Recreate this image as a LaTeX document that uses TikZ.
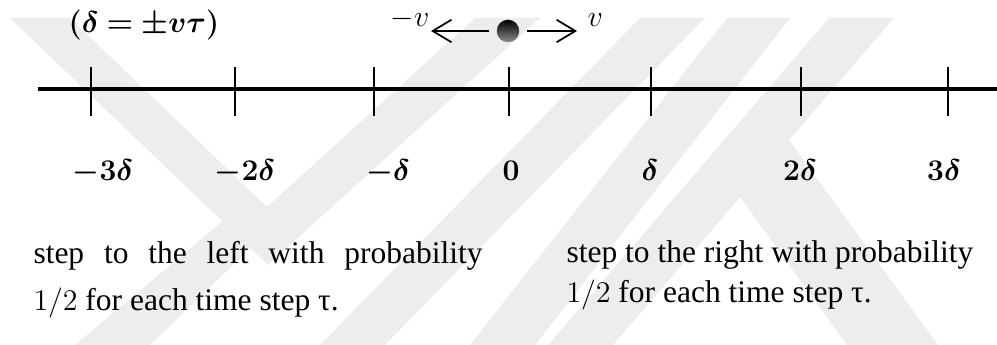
\documentclass[tikz,border=0pt]{standalone}
\usepackage{amsmath}
\usepackage{bm}
\usepackage{fontspec}
\setmainfont{Liberation Serif}
\usetikzlibrary{arrows.meta}
\definecolor{wmark}{RGB}{237,237,237}

\tikzset{
  tick/.style={line width=.45pt},
  poslabel/.style={anchor=base,inner sep=0pt,font=\fontsize{11.5}{13}\selectfont},
  vec/.style={line width=.7pt,->,shorten <=3pt},
  ball/.style={circle,inner sep=0pt,minimum size=9pt,top color=black,
    middle color=black!92,bottom color=black!45},
  steptext/.style={anchor=base west,inner sep=0pt,font=\fontsize{12.6}{16}\selectfont},
  vlabel/.style={inner sep=0pt,font=\fontsize{12.6}{14}\selectfont}
}

\begin{document}
\begin{tikzpicture}[x=.4pt,y=-.4pt,>={Straight Barb[length=7.5pt,width=9pt]}]
  \useasboundingbox (0,0) rectangle (997,345);

  % faint watermark in the background
  \fill[wmark] (10,18) -- (70,18) -- (267,207) -- (475,18) -- (540,18) -- (268,265) -- cycle;
  \fill[wmark] (75,345) -- (150,345) -- (285,215) -- (230,215) -- cycle;
  \fill[wmark] (320,345) -- (385,345) -- (705,18) -- (640,18) -- cycle;
  \fill[wmark] (470,345) -- (535,345) -- (790,18) -- (727,18) -- cycle;
  \fill[wmark] (548,345) -- (613,345) -- (894,18) -- (829,18) -- cycle;
  \fill[wmark] (740,197) -- (789,140) -- (938,345) -- (847,345) -- cycle;

  % axis with ticks and labels
  \coordinate (axl) at (38,89);
  \coordinate (axr) at (997,89);
  \draw[line width=1.6pt] (axl) -- (axr);
  \foreach \n/\x/\lx/\lab in {m3/91/103/-3\delta,m2/235/245/-2\delta,m1/374/388/-\delta,
      z/509/511/0,p1/651/650/\delta,p2/801/800/2\delta,p3/948/944/3\delta}
  {
    \coordinate (t\n) at (\x,89);
    \draw[tick] (t\n) ++(0,-22) -- ++(0,49);
    \node[poslabel] (l\n) at (\lx,181) {$\bm{\lab}$};
  }

  \node[font=\fontsize{11.5}{13}\selectfont] (rel) at (144,25) {$\bm{(\delta = \pm v\tau)}$};

  % particle and its two velocities
  \node[ball] (ball) at (508,31) {};
  \coordinate (ltip) at (431,31);
  \coordinate (rtip) at (577,31);
  \draw[vec] (ball) -- (ltip);
  \draw[vec] (ball) -- (rtip);
  \node[vlabel,anchor=base east] (mv) at (430,27) {$-v$};
  \node[vlabel,anchor=base west] (pv) at (587,27) {$v$};

  % the two rules
  \node[steptext] (left1) at (33,263) {\makebox[179.6pt][s]{step to the left with probability}};
  \node[steptext] (left2) at (33,310) {$1/2$ for each time step τ.};
  \node[steptext] (right1) at (566,262) {step to the right with probability};
  \node[steptext] (right2) at (566,302) {$1/2$ for each time step τ.};
\end{tikzpicture}
\end{document}
